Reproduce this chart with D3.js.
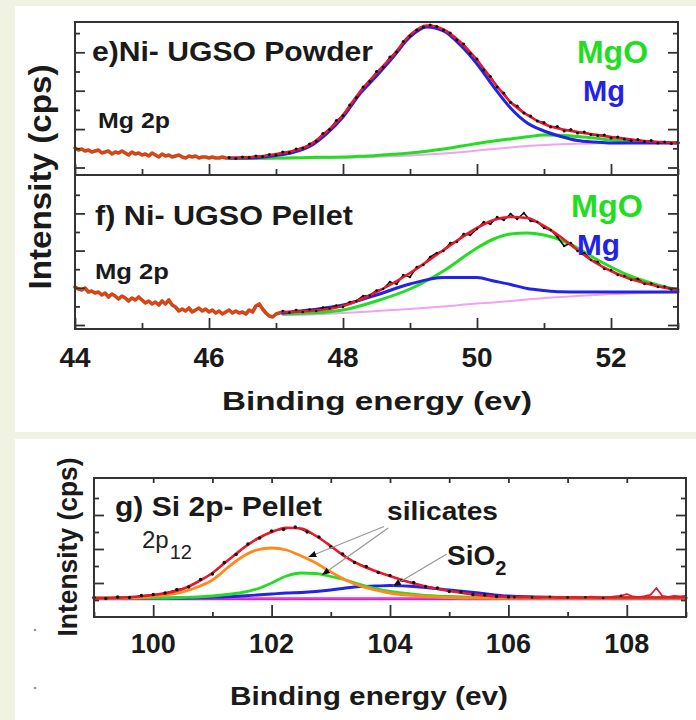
<!DOCTYPE html>
<html>
<head>
<meta charset="utf-8">
<script src="https://cdn.jsdelivr.net/npm/d3@7"></script>
<style>
html,body{margin:0;padding:0;background:#f1f3e2;}
svg{display:block;font-family:"Liberation Sans",Arial,Helvetica,sans-serif;}
</style>
</head>
<body>
<svg id="chart" width="696" height="720"></svg>
<script>
// ---------- panel e : Mg 2p, Ni-UGSO powder ----------
// raw spectrum before the fitted window, 44.00 .. 46.30 eV every 0.05 eV
const eRawStart = 44, eRawStep = 0.05
const eRawI = [270,250,260,240,250,230,240,250,220,230,240,210,230,220,240,220,200,230,210,220,200,210,190,220,200,180,210,190,200,180,190,200,180,170,190,180,190,170,180,180,170,180,170,170,180,170,170]
// fitted window
const eFitE   = [46.3,46.5,46.75,47,47.25,47.5,47.75,48,48.25,48.5,48.75,49,49.25,49.5,49.75,50,50.25,50.5,50.75,51,51.25,51.5,51.75,52,52.25,52.5,52.75,53]
const eTotal  = [170,175,185,210,240,300,430,600,830,1020,1200,1400,1495,1455,1330,1150,930,730,600,510,460,430,405,380,360,340,330,320]
const eMg     = [170,170,175,195,225,285,410,580,810,990,1180,1380,1480,1440,1300,1110,880,670,520,440,385,345,330,320,320,320,320,320]
const eMgO    = [165,165,167,170,172,175,178,180,187,195,207,220,238,260,287,315,340,360,382,400,397,385,370,350,340,330,324,320]
const eBase   = [163,163,164,165,166,168,170,173,177,182,188,195,204,215,228,244,260,276,290,300,307,312,316,318,319,320,320,320]
// measured points in the window, 46.3 .. 53.0 eV every 0.1 eV
const eDataStart = 46.3, eDataStep = 0.1
const eDataI = [175,165,180,175,190,185,205,
  200,230,225,260,270,310,340,415,455,545,
  595,700,775,880,935,1035,1080,1180,1230,1335,
  1390,1450,1480,1500,1485,1450,1420,1350,1310,1215,
  1160,1050,985,880,820,725,690,620,590,540,
  525,480,485,440,455,420,430,405,395,400,
  370,380,360,345,355,335,345,320,330,315,
  325]

// ---------- panel f : Mg 2p, Ni-UGSO pellet ----------
const fRawStart = 44, fRawStep = 0.05
const fRawI = [420,400,390,410,370,380,360,370,340,360,320,350,330,300,330,310,280,310,290,320,290,260,280,250,270,240,280,250,290,240,220,180,200,180,210,170,190,210,180,200,170,190,160,180,150,170,190,160,180,160,170,150,190,170,230,250,200,160,130,120,150,160,170]
const fFitE  = [47.1,47.5,48,48.5,49,49.5,50,50.25,50.5,50.75,51,51.25,51.5,51.75,52,52.25,52.5,52.75,53]
const fTotal = [170,180,230,370,560,790,1010,1090,1120,1110,1030,920,790,670,580,510,460,420,390]
const fMgO   = [150,160,190,280,400,580,810,900,950,960,940,890,810,710,620,540,480,430,390]
const fMg    = [160,190,240,340,450,515,515,480,445,405,385,372,370,370,370,370,370,370,370]
const fBase  = [140,145,160,180,200,225,255,265,280,295,310,320,330,340,350,355,360,365,370]
const fDataStart = 47.1, fDataStep = 0.1
const fDataI = [180,165,190,170,195,180,215,205,235,
  220,270,280,330,335,385,400,470,450,540,
  520,620,640,720,760,780,860,870,950,940,
  1000,1070,1050,1120,1090,1150,1100,1160,1080,1070,
  1010,990,920,830,860,780,760,690,670,600,
  590,540,530,490,500,450,455,420,425,395,
  400]

// ---------- panel g : Si 2p, pellet ----------
const gFitE   = [99,99.5,100,100.5,100.75,101,101.25,101.5,101.75,102,102.25,102.5,102.75,103,103.25,103.5,103.75,104,104.5,105,105.5,106,107,108,109]
const gTotal  = [190,195,220,280,350,440,560,680,780,850,893,885,810,710,600,520,460,410,320,260,220,200,195,195,195]
const g2p     = [190,190,205,250,300,370,490,600,670,690,670,610,540,450,370,310,270,240,210,195,190,190,190,190,190]
const gSilic  = [190,190,190,195,200,210,225,245,280,340,410,440,435,405,370,325,285,255,222,205,195,190,190,190,190]
const gSiO2   = [185,185,187,190,193,197,202,210,220,230,240,245,255,270,290,305,310,315,300,270,240,210,195,190,190]
const gVioletE = [99,109],    gVioletI = [180,180]
const gMagentaE = [100.5,109], gMagentaI = [188,188]
const gDataStart = 99, gDataStep = 0.2
const gDataI = [195,185,200,195,215,225,240,275,300,375,430,545,625,730,790,860,875,900,850,800,700,630,545,505,445,415,365,345,305,290,255,250,225,220,205,200]
const gTailStart = 106.1, gTailStep = 0.1
const gTailI = [198,193,200,196,190,197,202,194,188,196,200,192,198,203,195,190,198,205,212,230,205,198,208,222,290,210,200,212,205,210]
// arrows: [from E, from I, to E, to I]
const gArrows = [[103.9,905,102.62,600],[103.97,890,102.85,420],[104.96,630,104.05,310]]

// tick values
const topXMajor = [44,46,48,50,52], topXMinor = [45,47,49,51,53]
const eYTicks = [75,267,459,651,843,1035,1227,1419]
const fYTicks = [40,226,412,598,784,970,1156,1342]
const gXMajor = [100,102,104,106,108], gXMinor = [99,101,103,105,107,109]
const gXTop = [100,101,102,103,104,105,106,107,108]
const gYTicks = [170,340,510,680,850,1020,1190]

const RED = "#e8192c", BLUE = "#2323e6", GREEN = "#22dd22", PINK = "#f2a2ef"
const ORANGE = "#ff8a1c", VIOLET = "#9a2fd8", MAGENTA = "#ff35c6"

const grid = (start, step, vals) => vals.map((v,i) => [+(start + i*step).toFixed(2), v])
const zip = (xs, ys) => xs.map((x,i) => [x, ys[i]])

const svg = d3.select("#chart")

// photo background: white figure areas on a pale strip
svg.append("rect").attr("x",15).attr("y",6).attr("width",681).attr("height",426).attr("fill","#fff")
svg.append("rect").attr("x",15).attr("y",439).attr("width",681).attr("height",281).attr("fill","#fff")
svg.append("circle").attr("cx",35).attr("cy",630).attr("r",1.3).attr("fill","#999")
svg.append("circle").attr("cx",35).attr("cy",688).attr("r",1.3).attr("fill","#999")

svg.append("defs").append("marker")
  .attr("id","arrow").attr("viewBox","0 -4 8 8").attr("refX",8).attr("refY",0)
  .attr("markerUnits","userSpaceOnUse").attr("markerWidth",8).attr("markerHeight",8)
  .attr("orient","auto")
  .append("path").attr("d","M0,-3.2L8,0L0,3.2Z").attr("fill","#111")

const xTop = d3.scaleLinear().domain([44,53]).range([75,678])
const yE = d3.scaleLinear().domain([0,1530]).range([175,22])
const yF = d3.scaleLinear().domain([0,1540]).range([329,175])
const xG = d3.scaleLinear().domain([99,109]).range([94,686])
const yG = d3.scaleLinear().domain([0,1390]).range([617,478])

function ticks(axisFn, scale, values, size, tr){
  svg.append("g").attr("transform",tr)
    .call(axisFn(scale).tickValues(values).tickSize(size).tickFormat(""))
    .call(g => g.select(".domain").remove())
    .selectAll("line").attr("stroke","#333").attr("stroke-width",1.8)
}

function curve(x, y, pts, color, width, smooth){
  const ln = d3.line().x(d => x(d[0])).y(d => y(d[1]))
    .curve(smooth ? d3.curveMonotoneX : d3.curveLinear)
  svg.append("path").datum(pts).attr("d",ln).attr("fill","none")
    .attr("stroke",color).attr("stroke-width",width)
    .attr("stroke-linejoin","round").attr("stroke-linecap","round")
}

function dots(x, y, pts, r){
  svg.append("g").selectAll("circle").data(pts).join("circle")
    .attr("cx",d => x(d[0])).attr("cy",d => y(d[1])).attr("r",r).attr("fill","#111")
}

function text(s, x, y, size, opts){
  opts = opts || {}
  const t = svg.append("text").attr("x",x).attr("y",y)
    .attr("font-size",size).attr("font-weight",opts.weight || "bold")
    .attr("fill",opts.fill || "#1a1a1a").text(s)
  if (opts.len) t.attr("textLength",opts.len).attr("lengthAdjust","spacingAndGlyphs")
  if (opts.anchor) t.attr("text-anchor",opts.anchor)
  if (opts.rotate) t.attr("transform","rotate(-90,"+x+","+y+")")
  return t
}

// ---------- spectra e ----------
const eRaw = grid(eRawStart, eRawStep, eRawI)
curve(xTop, yE, eRaw, "#b0521c", 3.6, false)
curve(xTop, yE, eRaw, "#f03c12", 1.8, false)
curve(xTop, yE, zip(eFitE, eBase), PINK, 2, true)
curve(xTop, yE, zip(eFitE, eMgO), GREEN, 3, true)
curve(xTop, yE, zip(eFitE, eMg), BLUE, 3, true)
const eData = grid(eDataStart, eDataStep, eDataI)
curve(xTop, yE, eData, "#111", 1.4, false)
curve(xTop, yE, zip(eFitE, eTotal), RED, 2.6, true)
dots(xTop, yE, eData, 1.5)

// ---------- spectra f ----------
const fRaw = grid(fRawStart, fRawStep, fRawI)
curve(xTop, yF, fRaw, "#b0521c", 3.6, false)
curve(xTop, yF, fRaw, "#f03c12", 1.8, false)
curve(xTop, yF, zip(fFitE, fBase), PINK, 2, true)
curve(xTop, yF, zip(fFitE, fMgO), GREEN, 3, true)
curve(xTop, yF, zip(fFitE, fMg), BLUE, 3, true)
const fData = grid(fDataStart, fDataStep, fDataI)
curve(xTop, yF, fData, "#111", 1.6, false)
curve(xTop, yF, zip(fFitE, fTotal), RED, 2.6, true)
dots(xTop, yF, fData, 1.2)

// ---------- frames and ticks, upper figure ----------
svg.append("rect").attr("x",75).attr("y",22).attr("width",603).attr("height",153)
  .attr("fill","none").attr("stroke","#333").attr("stroke-width",2)
svg.append("rect").attr("x",75).attr("y",175).attr("width",603).attr("height",154)
  .attr("fill","none").attr("stroke","#333").attr("stroke-width",2)
ticks(d3.axisBottom, xTop, topXMajor, -11, "translate(0,175)")
ticks(d3.axisBottom, xTop, topXMinor, -6, "translate(0,175)")
ticks(d3.axisBottom, xTop, topXMajor, -11, "translate(0,329)")
ticks(d3.axisBottom, xTop, topXMinor, -6, "translate(0,329)")
for (const [sc, vals] of [[yE, eYTicks],[yF, fYTicks]]){
  const maj = vals.filter((v,i) => i % 2 === 0), mnr = vals.filter((v,i) => i % 2 === 1)
  ticks(d3.axisLeft, sc, maj, -10, "translate(75,0)")
  ticks(d3.axisLeft, sc, mnr, -5, "translate(75,0)")
  ticks(d3.axisRight, sc, maj, -10, "translate(678,0)")
  ticks(d3.axisRight, sc, mnr, -5, "translate(678,0)")
}
svg.append("g").selectAll("text").data(topXMajor).join("text")
  .attr("x",d => xTop(d)).attr("y",367).attr("text-anchor","middle")
  .attr("font-size",28).attr("font-weight","bold").attr("fill","#1a1a1a").text(d => d)

text("e)Ni- UGSO Powder", 92, 61, 27, {len:281})
text("Mg 2p", 98, 128, 22, {len:72})
text("MgO", 577, 63, 31, {fill:GREEN, len:71})
text("Mg", 583, 101, 30, {fill:BLUE, len:42})
text("f) Ni- UGSO Pellet", 95, 225, 28, {len:258})
text("Mg 2p", 95, 279, 22, {len:74})
text("MgO", 571, 217, 31, {fill:GREEN, len:72})
text("Mg", 577, 255, 30, {fill:BLUE, len:43})
text("Binding energy (ev)", 222, 410, 26, {len:310})
text("Intensity (cps)", 51, 177, 32, {rotate:true, anchor:"middle", len:225})

// ---------- spectra g ----------
curve(xG, yG, zip(gVioletE, gVioletI), VIOLET, 2.4, false)
curve(xG, yG, zip(gMagentaE, gMagentaI), MAGENTA, 2, false)
curve(xG, yG, zip(gFitE, gSiO2), BLUE, 2.8, true)
curve(xG, yG, zip(gFitE, gSilic), GREEN, 2.8, true)
curve(xG, yG, zip(gFitE, g2p), ORANGE, 2.8, true)
const gData = grid(gDataStart, gDataStep, gDataI)
const gTail = grid(gTailStart, gTailStep, gTailI)
curve(xG, yG, gData, "#111", 1.2, false)
curve(xG, yG, zip(gFitE, gTotal), RED, 2.6, true)
curve(xG, yG, [gData[gData.length-1]].concat(gTail), RED, 1.8, false)
dots(xG, yG, gData, 1.7)
dots(xG, yG, gTail.filter((d,i) => i % 3 === 0 && d[0] < 108), 1.3)

svg.append("g").selectAll("line").data(gArrows).join("line")
  .attr("x1",d => xG(d[0])).attr("y1",d => yG(d[1]))
  .attr("x2",d => xG(d[2])).attr("y2",d => yG(d[3]))
  .attr("stroke","#999").attr("stroke-width",1.3).attr("marker-end","url(#arrow)")

svg.append("rect").attr("x",94).attr("y",478).attr("width",592).attr("height",139)
  .attr("fill","none").attr("stroke","#333").attr("stroke-width",2)
ticks(d3.axisBottom, xG, gXMajor, -12, "translate(0,617)")
ticks(d3.axisBottom, xG, gXMinor, -5, "translate(0,617)")
ticks(d3.axisTop, xG, gXTop, -5, "translate(0,478)")
{
  const maj = gYTicks.filter((v,i) => i % 2 === 1), mnr = gYTicks.filter((v,i) => i % 2 === 0)
  ticks(d3.axisLeft, yG, maj, -10, "translate(94,0)")
  ticks(d3.axisLeft, yG, mnr, -5, "translate(94,0)")
  ticks(d3.axisRight, yG, maj, -10, "translate(686,0)")
  ticks(d3.axisRight, yG, mnr, -5, "translate(686,0)")
}
svg.append("g").selectAll("text").data(gXMajor).join("text")
  .attr("x",d => xG(d)).attr("y",653).attr("text-anchor","middle")
  .attr("font-size",27).attr("font-weight","bold").attr("fill","#1a1a1a").text(d => d)

text("g) Si 2p- Pellet", 115, 516, 28, {len:207})
const p12 = text("2p", 142, 548, 24, {weight:"normal", fill:"#222"})
p12.append("tspan").attr("font-size",20).attr("dx",1).attr("dy",11).text("12")
text("silicates", 387, 520, 26, {len:111})
const sio2 = text("SiO", 447, 565, 28)
sio2.append("tspan").attr("font-size",20).attr("dy",10).text("2")
text("Binding energy (ev)", 230, 705, 25, {len:278})
text("Intensity (cps)", 77, 547, 27, {rotate:true, anchor:"middle", len:179})
</script>
</body>
</html>
